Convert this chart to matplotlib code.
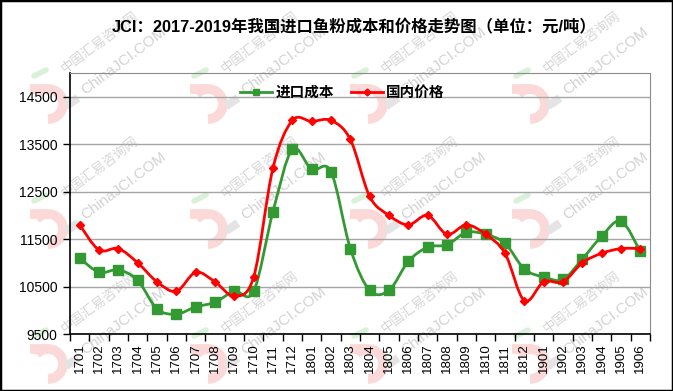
import numpy as np
import matplotlib
matplotlib.use("Agg")
import matplotlib.pyplot as plt
from matplotlib.path import Path
from matplotlib.patches import PathPatch, Rectangle, Arc
from matplotlib.lines import Line2D

months = ["1701", "1702", "1703", "1704", "1705", "1706", "1707", "1708", "1709", "1710",
          "1711", "1712", "1801", "1802", "1803", "1804", "1805", "1806", "1807", "1808",
          "1809", "1810", "1811", "1812", "1901", "1902", "1903", "1904", "1905", "1906"]

import_cost = [11100, 10800, 10850, 10630, 10030, 9920, 10070, 10170, 10400, 10400,
               12080, 13390, 12970, 12920, 11300, 10420, 10420, 11030, 11330, 11380,
               11640, 11600, 11410, 10870, 10700, 10650, 11080, 11560, 11880, 11240]

domestic_price = [11800, 11270, 11300, 11000, 10600, 10400, 10800, 10600, 10300, 10700,
                  13000, 14000, 13980, 14000, 13600, 12400, 12000, 11800, 12000, 11600,
                  11800, 11600, 11200, 10200, 10600, 10600, 11000, 11200, 11300, 11300]

series_names = ["进口成本", "国内价格"]
title = "JCI：2017-2019年我国进口鱼粉成本和价格走势图（单位：元/吨）"

GREEN = "#339933"
RED = "#ff0000"
CJK = ["Liberation Sans", "Noto Sans CJK SC", "DejaVu Sans"]

plt.rcParams["font.family"] = CJK

W, H = 673, 391
fig = plt.figure(figsize=(W / 100, H / 100), dpi=100)


def px(x, y):
    return x / W, 1 - y / H


# background watermark: logo + site name, repeated on a grid
bg = fig.add_axes([0, 0, 1, 1], zorder=-1)
bg.set_xlim(0, W)
bg.set_ylim(H, 0)
bg.axis("off")
for cx in [100, 260, 420, 582]:
    for cy in [42, 167, 302]:
        lx, ly = cx - 52, cy + 62
        bg.plot([lx - 18, lx], [ly - 15, ly - 15], color="#fbd9d9", lw=7,
                solid_capstyle="butt")
        bg.add_patch(Arc((lx, ly), 30, 30, theta1=-140, theta2=90, lw=7,
                         color="#fbd9d9"))
        bg.plot([lx + 18, lx + 30], [ly + 2, ly - 6], color="#e4e4e4", lw=6,
                solid_capstyle="butt")
        bg.plot([lx - 14, lx - 2], [ly - 28, ly - 34], color="#d9f0d9", lw=4,
                solid_capstyle="round")
        bg.text(cx, cy, "中国汇易咨询网", rotation=37, color="#d6d6d6",
                fontsize=9.5, ha="center", va="center",
                family=["Noto Sans CJK SC"])
        bg.text(cx + 24, cy + 19, "ChinaJCI.COM", rotation=37, color="#d2d2d2",
                fontsize=11, ha="center", va="center")

l, r, t, b = 70, 650, 73, 334
ax = fig.add_axes([l / W, 1 - b / H, (r - l) / W, (b - t) / H])
ax.patch.set_alpha(0)


def smooth_path(xs, ys):
    pts = np.column_stack([xs, ys]).astype(float)
    n = len(pts)
    verts = [pts[0]]
    codes = [Path.MOVETO]
    for i in range(n - 1):
        p0 = pts[i - 1] if i > 0 else pts[i]
        p1 = pts[i]
        p2 = pts[i + 1]
        p3 = pts[i + 2] if i + 2 < n else pts[i + 1]
        c1 = p1 + (p2 - p0) / 6.0
        c2 = p2 - (p3 - p1) / 6.0
        verts += [c1, c2, p2]
        codes += [Path.CURVE4] * 3
    return Path(verts, codes)


x = np.arange(len(months))
ax.add_patch(PathPatch(smooth_path(x, import_cost), fill=False, edgecolor=GREEN, lw=2, zorder=3))
ax.plot(x, import_cost, ls="none", marker="s", ms=6.5, color=GREEN, zorder=4)
ax.add_patch(PathPatch(smooth_path(x, domestic_price), fill=False, edgecolor=RED, lw=2, zorder=5))
ax.plot(x, domestic_price, ls="none", marker="D", ms=4, color=RED, zorder=6)

ax.set_xlim(-0.5, len(months) - 0.5)
ax.set_ylim(9500, 15000)
ax.set_yticks(np.arange(9500, 15000, 1000))
ax.set_yticklabels([str(v) for v in range(9500, 15000, 1000)], fontsize=10)
ax.yaxis.grid(True, color="#a6a6a6", lw=1)
ax.set_axisbelow(True)

ax.set_xticks(x)
ax.set_xticklabels(months, rotation=90, fontsize=9.5)
ax.set_xticks(np.arange(-0.5, len(months), 1), minor=True)
ax.tick_params(axis="x", which="major", length=0, pad=7)
ax.tick_params(axis="x", which="minor", length=5, width=1, direction="out")
ax.tick_params(axis="y", length=5, width=1, direction="out", pad=4)

for s in ["top", "right"]:
    ax.spines[s].set_color("#8c8c8c")
for s in ["left", "bottom"]:
    ax.spines[s].set_color("black")
    ax.spines[s].set_linewidth(1.2)

handles = [Line2D([], [], color=GREEN, lw=2, marker="s", ms=5),
           Line2D([], [], color=RED, lw=2, marker="D", ms=3.5)]
ax.legend(handles, series_names, loc="upper center", bbox_to_anchor=(0.47, 1.0),
          ncol=2, frameon=False, handlelength=2.2, handletextpad=0.2, columnspacing=1.2,
          prop={"family": CJK, "weight": "bold", "size": 10.5})

fig.text(*px(354, 27), title, ha="center", va="center", fontsize=11.8, fontweight="bold")

fig.patches.append(Rectangle((0, 0), 1, 1, transform=fig.transFigure, fill=False,
                             edgecolor="black", lw=2.5))

fig.savefig("out.png", dpi=100)
